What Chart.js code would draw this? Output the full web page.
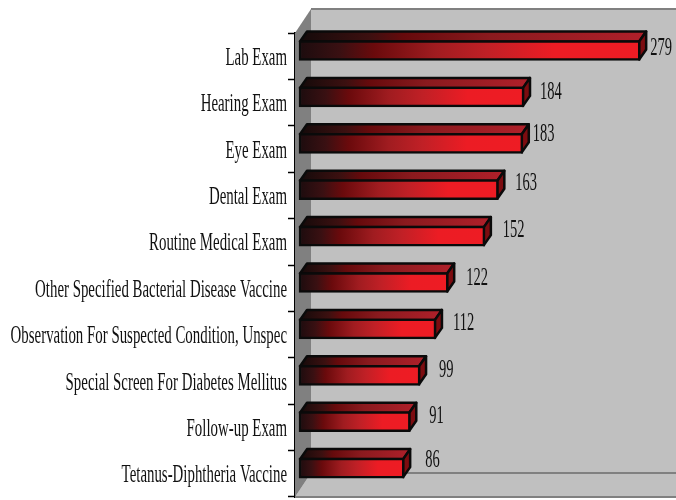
<!DOCTYPE html>
<html><head><meta charset="utf-8">
<style>html,body{margin:0;padding:0;background:#fff}#w{width:676px;height:500px}</style>
<script src="https://cdn.jsdelivr.net/npm/chart.js@4"></script>
</head><body><div id="w"><canvas id="c" width="676" height="500"></canvas></div>
<script>
const categories = ["Lab Exam","Hearing Exam","Eye Exam","Dental Exam","Routine Medical Exam","Other Specified Bacterial Disease Vaccine","Observation For Suspected Condition, Unspec","Special Screen For Diabetes Mellitus","Follow-up Exam","Tetanus-Diphtheria Vaccine"];
const visits = [279,184,183,163,152,122,112,99,91,86];

const FONT = '"Liberation Serif"';
const SQUEEZE = 0.595, VALUE_SQUEEZE = 0.58, DX = 7, DY = 10, LIFT = 5.7, WALL = 16, WALLH = 24;

function grad(ctx, x0, x1, stops){
  const g = ctx.createLinearGradient(x0,0,x1,0);
  stops.forEach(s=>g.addColorStop(s[0],s[1]));
  return g;
}
const FRONT=[[0,'#1c0c0e'],[0.12,'#3a1012'],[0.22,'#6a0a0c'],[0.4,'#a01c20'],[0.55,'#c02026'],[0.75,'#ec1c24'],[1,'#ee1c24']];
const TOP=[[0,'#140a0a'],[0.2,'#3c1010'],[0.3,'#660a0c'],[0.55,'#8a1a1e'],[1,'#b0202a']];

const scene = {
  id:'scene',
  beforeDatasetsDraw(chart){
    const {ctx,chartArea:a} = chart;
    ctx.save();
    ctx.fillStyle='#c0c0c0';
    ctx.fillRect(a.left+WALL,a.top-WALLH,a.right-a.left-WALL,a.bottom-a.top);
    ctx.fillStyle='#808080';
    ctx.fillRect(a.left+WALL,a.top-WALLH-1,a.right-a.left-WALL,2);
    ctx.fillStyle='#c0c0c0';
    ctx.beginPath();ctx.moveTo(a.left,a.bottom);ctx.lineTo(a.left+WALL,a.bottom-WALLH);ctx.lineTo(a.right,a.bottom-WALLH);ctx.lineTo(a.right,a.bottom);ctx.closePath();ctx.fill();
    ctx.fillStyle='#808080';
    ctx.fillRect(a.left+WALL,a.bottom-WALLH-1,a.right-a.left-WALL,2);
    ctx.fillRect(a.left,a.bottom-1,a.right-a.left,2);
    ctx.beginPath();ctx.moveTo(a.left,a.top);ctx.lineTo(a.left+WALL,a.top-WALLH);ctx.lineTo(a.left+WALL,a.bottom-WALLH);ctx.lineTo(a.left,a.bottom);ctx.closePath();ctx.fill();
    ctx.lineWidth=2.5;ctx.strokeStyle='#0a0a0a';ctx.lineJoin='round';
    chart.getDatasetMeta(0).data.forEach(el=>{
      const t=el.y-el.height/2-LIFT+1, b=el.y+el.height/2-LIFT-1, l=el.base+1, r=el.x-1;
      ctx.beginPath();ctx.moveTo(l,t);ctx.lineTo(l+DX,t-DY);ctx.lineTo(r+DX,t-DY);ctx.lineTo(r,t);ctx.closePath();
      ctx.fillStyle=grad(ctx,l,r+DX,TOP);ctx.fill();ctx.stroke();
      ctx.beginPath();ctx.moveTo(r,t);ctx.lineTo(r+DX,t-DY);ctx.lineTo(r+DX,b-DY);ctx.lineTo(r,b);ctx.closePath();
      ctx.fillStyle='#7c0c10';ctx.fill();ctx.stroke();
    });
    ctx.restore();
    ctx.save();ctx.translate(0,-LIFT);
  },
  afterDatasetsDraw(chart,args,opts){
    const {ctx} = chart;
    ctx.restore();
    ctx.save();
    ctx.fillStyle='#111';ctx.textAlign='left';ctx.textBaseline='middle';
    ctx.font='25px '+FONT;
    chart.getDatasetMeta(0).data.forEach((el,i)=>{
      const x=el.x+DX+opts.gapX[i], y=el.y+opts.gapY[i];
      ctx.save();ctx.translate(x,y);ctx.scale(VALUE_SQUEEZE,1);
      ctx.fillText(String(visits[i]),0,0);ctx.restore();
    });
    ctx.restore();
  }
};
const squeezeLabels = {
  id:'squeezeLabels',
  afterLayout(chart){
    const s=chart.scales.y;
    if(s._sq) return; s._sq=true;
    const orig=s.drawLabels;
    s._computeLabelArea=function(){return undefined;};
    s.drawLabels=function(area){
      const c=this.ctx, edge=this.right-8;
      c.save();c.translate(edge,2);c.scale(SQUEEZE,1);c.translate(-edge,0);
      orig.call(this,area);c.restore();
    };
  }
};

new Chart(document.getElementById('c'),{
  type:'bar',
  data:{labels:categories,datasets:[{
    data:visits,
    barThickness:20,
    borderWidth:2.5,borderColor:'#0a0a0a',borderSkipped:false,
    backgroundColor(ctx){
      const c=ctx.chart, a=c.chartArea;
      if(!a||ctx.parsed==null) return '#ee1c24';
      const x=c.scales.x;
      return grad(c.ctx,x.getPixelForValue(0),x.getPixelForValue(ctx.parsed.x),FRONT);
    }
  }]},
  plugins:[scene,squeezeLabels],
  options:{
    indexAxis:'y',responsive:false,animation:false,
    layout:{padding:{top:33,bottom:3,left:0,right:0}},
    plugins:{legend:{display:false},tooltip:{enabled:false},
      scene:{gapX:[3,9,3,10,11,11,10,12,12,14],gapY:[-8,-10,-15,-12,-11,-10,-11,-11,-11,-13]}},
    scales:{
      x:{display:false,min:-3.27,max:308.3},
      y:{
        afterFit(s){s.width=295;s.paddingTop=0;s.paddingBottom=0;},
        border:{display:true,color:'#000',width:2},
        grid:{drawOnChartArea:false,offset:true,tickLength:7,color:'#000',tickWidth:1.5},
        ticks:{autoSkip:false,maxRotation:0,minRotation:0,padding:1,color:'#111',font:{family:FONT,size:25}}
      }
    }
  }
});
</script></body></html>
